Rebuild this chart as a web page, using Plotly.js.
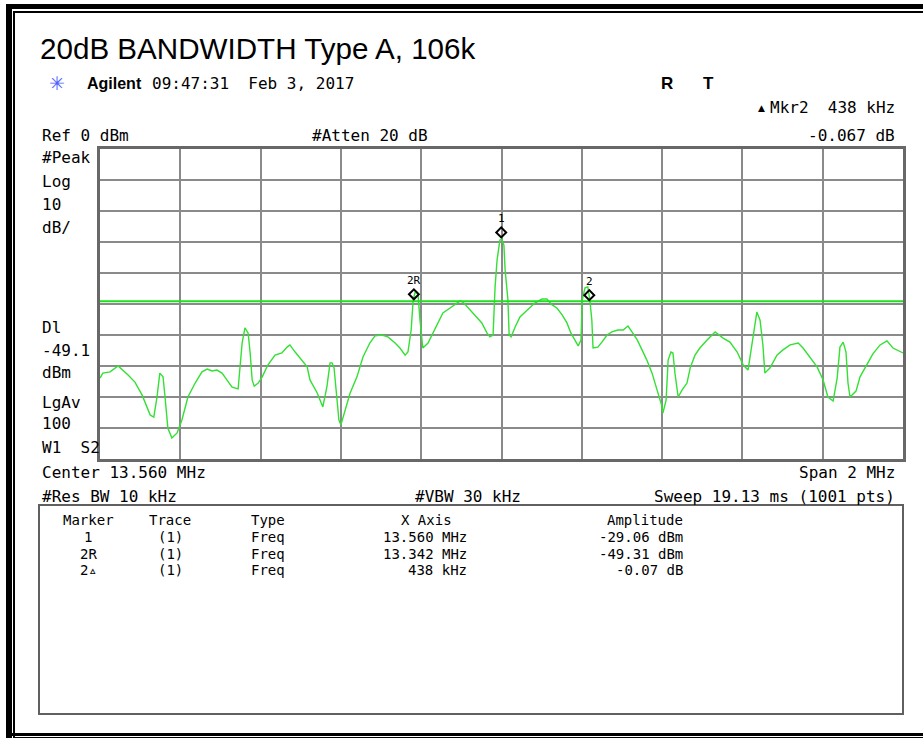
<!DOCTYPE html>
<html>
<head>
<meta charset="utf-8">
<script src="https://cdn.plot.ly/plotly-3.0.1.min.js"></script>
<style>
html,body{margin:0;padding:0;background:#fff;}
#chart{width:923px;height:738px;}
</style>
</head>
<body>
<div id="chart"></div>
<script>
// ---- data ----
const freqMHz = [
12.560,12.567,12.585,12.605,12.630,12.647,12.665,12.685,12.694,12.702,
12.709,12.717,12.722,12.729,12.739,12.752,12.764,12.779,12.797,12.814,
12.827,12.839,12.851,12.864,12.876,12.889,12.904,12.909,12.914,12.921,
12.929,12.934,12.939,12.944,12.954,12.964,12.978,12.996,13.013,13.026,
13.033,13.046,13.063,13.076,13.083,13.101,13.115,13.125,13.133,13.138,
13.143,13.148,13.155,13.160,13.170,13.183,13.200,13.215,13.232,13.245,
13.262,13.277,13.295,13.307,13.320,13.327,13.335,13.340,13.345,13.352,
13.357,13.364,13.377,13.389,13.402,13.414,13.432,13.449,13.457,13.464,
13.477,13.494,13.511,13.524,13.531,13.539,13.544,13.549,13.556,13.560,
13.566,13.569,13.576,13.579,13.584,13.594,13.606,13.619,13.631,13.643,
13.661,13.673,13.686,13.698,13.711,13.723,13.733,13.743,13.751,13.758,
13.761,13.768,13.775,13.780,13.785,13.788,13.800,13.810,13.823,13.835,
13.850,13.863,13.875,13.885,13.898,13.910,13.922,13.935,13.947,13.960,
13.962,13.970,13.975,13.982,13.987,13.992,14.000,14.010,14.022,14.030,
14.042,14.054,14.072,14.092,14.112,14.129,14.147,14.162,14.174,14.184,
14.196,14.204,14.211,14.216,14.229,14.246,14.261,14.279,14.299,14.311,
14.328,14.346,14.361,14.373,14.386,14.396,14.403,14.411,14.418,14.423,
14.428,14.443,14.453,14.470,14.485,14.503,14.520,14.535,14.560];

const levelDbm = [
-73.9,-72.3,-71.9,-70.0,-72.9,-75.2,-79.4,-85.8,-86.5,-80.0,
-72.3,-73.5,-80.0,-90.0,-93.2,-91.6,-87.4,-80.0,-75.5,-71.9,
-71.0,-71.6,-71.3,-72.3,-74.5,-76.8,-77.4,-69.0,-62.6,-57.7,
-59.4,-65.8,-74.5,-76.5,-75.5,-73.5,-69.7,-66.5,-65.8,-63.9,
-63.2,-65.5,-68.1,-70.3,-74.5,-78.7,-83.2,-76.8,-69.0,-69.0,
-70.6,-76.8,-87.4,-89.0,-84.2,-78.7,-73.5,-67.1,-62.6,-60.3,
-60.0,-60.6,-62.6,-64.2,-66.5,-65.5,-58.4,-48.7,-46.1,-46.8,
-55.2,-64.2,-62.6,-59.4,-56.1,-52.9,-51.3,-49.7,-49.0,-49.4,
-51.3,-53.5,-56.1,-59.4,-60.6,-60.0,-44.5,-35.8,-29.4,-29.06,
-31.0,-39.0,-48.7,-60.0,-60.6,-57.4,-54.2,-52.6,-51.0,-49.7,
-48.4,-48.4,-50.3,-51.3,-53.5,-56.1,-59.4,-61.6,-63.5,-61.6,
-48.7,-44.8,-44.5,-48.7,-55.2,-64.2,-63.9,-62.3,-60.0,-59.0,
-58.4,-58.4,-57.1,-59.0,-61.6,-64.8,-68.1,-72.3,-77.7,-83.2,
-85.2,-81.0,-68.1,-65.5,-65.8,-72.3,-80.0,-77.7,-75.5,-70.6,
-66.5,-64.2,-61.6,-59.0,-61.0,-62.3,-65.5,-69.7,-71.3,-62.6,
-52.6,-55.2,-63.2,-72.3,-70.6,-66.5,-64.8,-63.2,-62.6,-64.2,
-67.1,-70.3,-74.5,-80.0,-81.3,-73.9,-63.9,-62.3,-65.5,-75.5,
-80.0,-78.1,-73.5,-69.7,-66.1,-63.2,-61.9,-64.2,-65.8];

const centerMHz = 13.56;
const spanMHz = 2;
const refLevel = 0;
const dbPerDiv = 10;
const displayLine = -49.1;

const markerLabels = ['1', '2R', '2'];
const markerFreq = [13.560, 13.342, 13.780];
const markerDbm = [-29.06, -49.31, -49.38];

// marker table
const tblHeaders = ['Marker', 'Trace', 'Type', 'X Axis', 'Amplitude'];
const tblMarker = ['1', '2R', '2\u25B5'];
const tblTrace = ['(1)', '(1)', '(1)'];
const tblType = ['Freq', 'Freq', 'Freq'];
const tblXAxis = ['13.560 MHz', '13.342 MHz', '438 kHz'];
const tblAmp = ['-29.06 dBm', '-49.31 dBm', '-0.07 dB'];

// ---- layout helpers (pixel -> paper) ----
const L = 100, T = 149, W = 803, H = 310;
const px = x => (x - L) / W;
const py = y => (T + H - y) / H;
const MONO = 'DejaVu Sans Mono, monospace';
const SANS = 'Liberation Sans, Arial, sans-serif';

function txt(text, x, y, o) {
  o = o || {};
  return {
    text: text, xref: 'paper', yref: 'paper', x: px(x), y: py(y),
    xanchor: o.xa || 'left', yanchor: 'middle', showarrow: false,
    font: {family: o.fam || MONO, size: o.size || 16, color: o.color || '#000', weight: o.weight || 'normal'}
  };
}

const annotations = [
  txt('\u2733', 57, 83, {fam: 'DejaVu Sans', size: 19, color: '#5060ff', xa: 'center'}),
  txt('<b>Agilent</b>', 85, 83, {fam: SANS, size: 16}),
  txt('09:47:31  Feb 3, 2017', 150, 83),
  txt('<b>R</b>', 667, 83, {fam: SANS, size: 17, xa: 'center'}),
  txt('<b>T</b>', 708, 83, {fam: SANS, size: 17, xa: 'center'}),
  txt('\u25B2', 761, 108, {fam: 'DejaVu Sans', size: 9, xa: 'center'}),
  txt('Mkr2  438 kHz', 897, 108, {xa: 'right'}),
  txt('Ref 0 dBm', 40, 135),
  txt('#Atten 20 dB', 310, 135),
  txt('-0.067 dB', 897, 135, {xa: 'right'}),
  txt('#Peak', 40, 157),
  txt('Log', 40, 181),
  txt('10', 40, 204),
  txt('dB/', 40, 227),
  txt('Dl', 40, 327),
  txt('-49.1', 40, 350),
  txt('dBm', 40, 372),
  txt('LgAv', 40, 402),
  txt('100', 40, 423),
  txt('W1  S2', 40, 447),
  txt('Center 13.560 MHz', 40, 472),
  txt('Span 2 MHz', 897, 472, {xa: 'right'}),
  txt('#Res BW 10 kHz', 40, 496),
  txt('#VBW 30 kHz', 413, 496),
  txt('Sweep 19.13 ms (1001 pts)', 897, 496, {xa: 'right'})
];

// table text
const tblSize = 14;
annotations.push(txt(tblHeaders[0], 88, 520, {size: tblSize, xa: 'center'}));
annotations.push(txt(tblHeaders[1], 170, 520, {size: tblSize, xa: 'center'}));
annotations.push(txt(tblHeaders[2], 249, 520, {size: tblSize}));
annotations.push(txt(tblHeaders[3], 426, 520, {size: tblSize, xa: 'center'}));
annotations.push(txt(tblHeaders[4], 685, 520, {size: tblSize, xa: 'right'}));
const rowY = [537, 553.5, 570];
for (let i = 0; i < tblMarker.length; i++) {
  annotations.push(txt(tblMarker[i], 88, rowY[i], {size: tblSize, xa: 'center'}));
  annotations.push(txt(tblTrace[i], 170, rowY[i], {size: tblSize, xa: 'center'}));
  annotations.push(txt(tblType[i], 249, rowY[i], {size: tblSize}));
  annotations.push(txt(tblXAxis[i], 469, rowY[i], {size: tblSize, xa: 'right'}));
  annotations.push(txt(tblAmp[i], 685, rowY[i], {size: tblSize, xa: 'right'}));
}

// markers: diamond + label above the marker point
for (let i = 0; i < markerFreq.length; i++) {
  annotations.push({
    xref: 'x', yref: 'y', x: markerFreq[i], y: markerDbm[i], yshift: 7,
    text: ' ', showarrow: false, width: 5, height: 5, borderpad: 0,
    borderwidth: 2, bordercolor: '#000', bgcolor: 'rgba(255,255,255,0)',
    textangle: 45, font: {size: 2}, xanchor: 'center', yanchor: 'middle'
  });
  annotations.push({
    xref: 'x', yref: 'y', x: markerFreq[i], y: markerDbm[i], yshift: 21,
    text: markerLabels[i], showarrow: false, xanchor: 'center', yanchor: 'middle',
    font: {family: MONO, size: 11, color: '#000'}
  });
}

function hline(x0, x1, y, w) {
  return {type: 'line', xref: 'paper', yref: 'paper', x0: px(x0), x1: px(x1), y0: py(y), y1: py(y),
    line: {color: '#000', width: w}, layer: 'above'};
}
function vline(x, y0, y1, w) {
  return {type: 'line', xref: 'paper', yref: 'paper', x0: px(x), x1: px(x), y0: py(y0), y1: py(y1),
    line: {color: '#000', width: w}, layer: 'above'};
}

const shapes = [
  // display line
  {type: 'line', xref: 'paper', yref: 'y', x0: 0, x1: 1, y0: displayLine, y1: displayLine,
   line: {color: '#1ee01e', width: 2}, layer: 'above'},
  // marker table box
  {type: 'rect', xref: 'paper', yref: 'paper', x0: px(39), x1: px(903), y0: py(714), y1: py(505),
   line: {color: '#606060', width: 2}, fillcolor: 'rgba(0,0,0,0)', layer: 'above'},
  // outer page frame (double line)
  hline(6, 923, 6.5, 5),
  hline(13, 923, 12, 2),
  vline(9, 4, 738, 6),
  vline(14, 11, 738, 2),
  hline(6, 923, 734.5, 3),
  hline(13, 923, 737.5, 1)
];

const trace = {
  x: freqMHz, y: levelDbm, type: 'scatter', mode: 'lines',
  line: {color: '#33e033', width: 1.4}, hoverinfo: 'skip'
};

const layout = {
  width: 923, height: 738,
  margin: {l: L, r: 923 - L - W, t: T, b: 738 - T - H, pad: 0},
  paper_bgcolor: '#fff', plot_bgcolor: '#fff',
  showlegend: false,
  title: {text: '20dB BANDWIDTH Type A, 106k', xref: 'container', yref: 'container',
    x: 40 / 923, xanchor: 'left', y: 1 - 49 / 738, yanchor: 'middle',
    font: {family: SANS, size: 29.6, color: '#000'}},
  xaxis: {range: [centerMHz - spanMHz / 2, centerMHz + spanMHz / 2], tick0: centerMHz - spanMHz / 2,
    dtick: spanMHz / 10, showgrid: true, gridcolor: '#8a8a8a', gridwidth: 2, zeroline: false,
    showticklabels: false, ticks: '', showline: true, mirror: true, linecolor: '#686868', linewidth: 3,
    fixedrange: true},
  yaxis: {range: [refLevel - 10 * dbPerDiv, refLevel], tick0: refLevel, dtick: dbPerDiv,
    showgrid: true, gridcolor: '#8a8a8a', gridwidth: 2, zeroline: false,
    showticklabels: false, ticks: '', showline: true, mirror: true, linecolor: '#686868', linewidth: 3,
    fixedrange: true},
  annotations: annotations,
  shapes: shapes
};

Plotly.newPlot('chart', [trace], layout, {staticPlot: true, displayModeBar: false});
</script>
</body>
</html>
